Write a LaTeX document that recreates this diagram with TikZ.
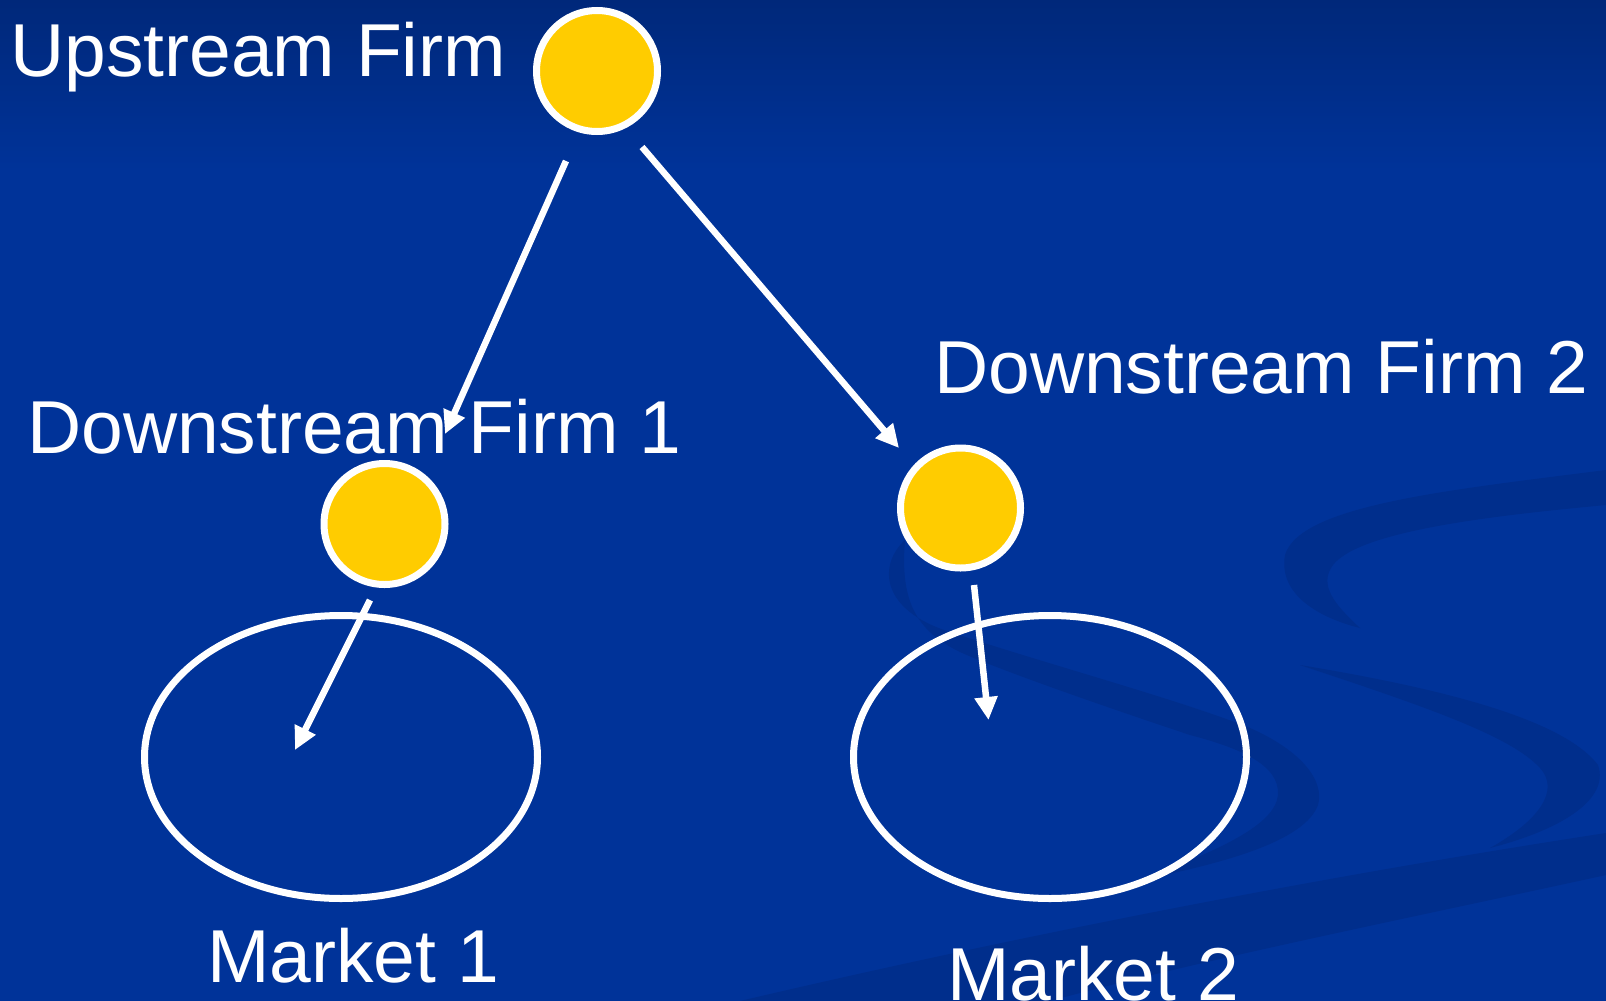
\documentclass[tikz,border=0pt]{standalone}
\usepackage{fontspec}
\setmainfont{Liberation Sans}
\usetikzlibrary{arrows.meta,shapes.geometric}
\definecolor{bg}{RGB}{0,51,153}
\definecolor{bgtop}{RGB}{0,40,122}
\definecolor{swirl}{RGB}{0,46,140}
\definecolor{firm}{RGB}{255,204,0}
\begin{document}
\begin{tikzpicture}[x=1pt,y=-1pt,
  lbl/.style={text=white,font=\fontsize{75}{80}\selectfont,inner sep=0pt,anchor=base west},
  firmdot/.style={circle,draw=white,line width=7pt,fill=firm,minimum size=121pt,inner sep=0pt},
  market/.style={ellipse,draw=white,line width=7pt,minimum width=393pt,minimum height=283pt,inner sep=0pt},
  arr/.style={white,line width=6.5pt,-{Triangle[length=23pt,width=22pt]}},
  band/.style={fill=swirl,draw=none}]
\useasboundingbox (0,0) rectangle (1606,1001);
% background
\fill[bg] (0,0) rectangle (1606,1001);
\shade[top color=bgtop,bottom color=bg] (0,0) rectangle (1606,170);
% background swirls
\path[band] (1606,470) .. controls (1450,490) and (1300,505) .. (1285,555)
  .. controls (1278,595) and (1320,618) .. (1360,628)
  .. controls (1335,605) and (1318,585) .. (1333,565)
  .. controls (1360,530) and (1500,515) .. (1606,505) -- cycle;
\path[band] (905,540) .. controls (878,565) and (880,610) .. (950,632)
  .. controls (1050,665) and (1180,700) .. (1250,728)
  .. controls (1300,750) and (1325,780) .. (1318,805)
  .. controls (1305,840) and (1230,862) .. (1140,880)
  .. controls (1220,850) and (1275,825) .. (1278,795)
  .. controls (1280,765) and (1240,748) .. (1190,735)
  .. controls (1100,705) and (1000,670) .. (960,652)
  .. controls (915,630) and (900,600) .. (905,540) -- cycle;
\path[band] (1300,665) .. controls (1420,685) and (1560,715) .. (1598,765)
  .. controls (1610,800) and (1560,830) .. (1490,848)
  .. controls (1540,820) and (1560,790) .. (1540,768)
  .. controls (1510,735) and (1420,705) .. (1300,665) -- cycle;
\path[band] (740,1001) .. controls (1000,940) and (1300,880) .. (1606,833)
  -- (1606,875) .. controls (1400,920) and (1200,960) .. (1050,1001) -- cycle;
% firms
\node[firmdot] (up) at (597,71) {};
\node[firmdot] (df1) at (384.5,524) {};
\node[firmdot,minimum size=120pt] (df2) at (960.5,508) {};
% markets
\node[market] (m1) at (341,757) {};
\node[market] (m2) at (1050,757) {};
% labels
\node[lbl] (uptxt) at (10,76) {Upstream Firm};
\node[lbl] (d1txt) at (27,453) {Downstream Firm 1};
\node[lbl] (d2txt) at (934,393) {Downstream Firm 2};
\node[lbl] (m1txt) at (207,982) {Market 1};
\node[lbl] (m2txt) at (947,1000) {Market 2};
% arrow ends
\coordinate (a1s) at (566,161);
\coordinate (a1e) at (445,434);
\coordinate (a2s) at (642,147);
\coordinate (a2e) at (899,448);
\coordinate (a3s) at (370,600);
\coordinate (a3e) at (295,750);
\coordinate (a4s) at (974,585);
\coordinate (a4e) at (988.5,720);
\draw[arr] (a1s) -- (a1e);
\draw[arr] (a2s) -- (a2e);
\draw[arr] (a3s) -- (a3e);
\draw[arr] (a4s) -- (a4e);
\end{tikzpicture}
\end{document}
